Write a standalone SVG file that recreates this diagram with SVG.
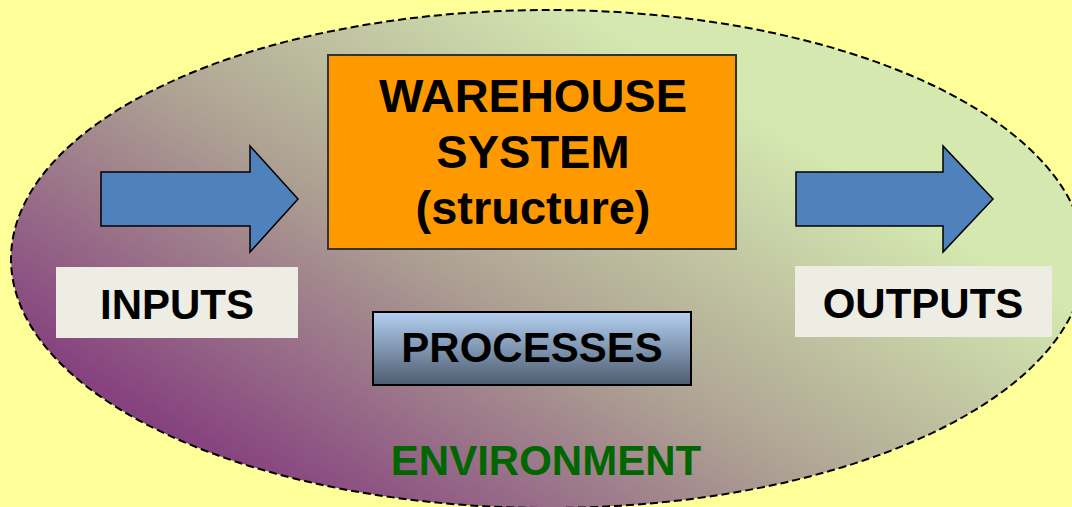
<svg xmlns="http://www.w3.org/2000/svg" width="1072" height="507" viewBox="0 0 1072 507">
<style>
.lbl{font-family:"Liberation Sans",Arial,sans-serif;font-weight:bold;text-anchor:middle;fill:#000}
.arrow{fill:#4f81bd;stroke:#000;stroke-width:1.5;stroke-linejoin:miter}
.tag{fill:#eeede3}
</style>
<defs>
<linearGradient id="env" gradientUnits="userSpaceOnUse" x1="300" y1="510" x2="600" y2="20">
<stop offset="0" stop-color="#86427f"/>
<stop offset="0.5" stop-color="#aea293"/>
<stop offset="1" stop-color="#d4e8b0"/>
</linearGradient>
<linearGradient id="proc" x1="0" y1="0" x2="0" y2="1">
<stop offset="0" stop-color="#b4d0f2"/>
<stop offset="1" stop-color="#4d5c70"/>
</linearGradient>
</defs>
<rect x="0" y="0" width="1072" height="507" fill="#ffff99"/>
<g id="environment">
<ellipse cx="548" cy="259" rx="537" ry="249" fill="url(#env)" stroke="#000" stroke-width="2" stroke-dasharray="8,4"/>
<text class="lbl" x="546" y="475" font-size="42" style="fill:#006600">ENVIRONMENT</text>
</g>
<g id="connectors">
<polygon class="arrow" points="101,172 250,172 250,146 298,199 250,252 250,226 101,226"/>
<polygon class="arrow" points="796,172 943,172 943,146 993,199 943,252 943,226 796,226"/>
</g>
<g id="warehouse">
<rect x="328" y="55" width="408" height="194" fill="#ff9900" stroke="#333" stroke-width="2"/>
<text class="lbl" x="533" y="112" font-size="47">WAREHOUSE</text>
<text class="lbl" x="533" y="168" font-size="47">SYSTEM</text>
<text class="lbl" x="533" y="224" font-size="47">(structure)</text>
</g>
<g id="inputs">
<rect class="tag" x="56" y="267" width="242" height="71"/>
<text class="lbl" x="177" y="319" font-size="42">INPUTS</text>
</g>
<g id="outputs">
<rect class="tag" x="795" y="266" width="257" height="71"/>
<text class="lbl" x="923" y="318" font-size="42">OUTPUTS</text>
</g>
<g id="processes">
<rect x="373" y="312" width="318" height="73" fill="url(#proc)" stroke="#000" stroke-width="2"/>
<text class="lbl" x="532" y="362" font-size="42">PROCESSES</text>
</g>
</svg>
